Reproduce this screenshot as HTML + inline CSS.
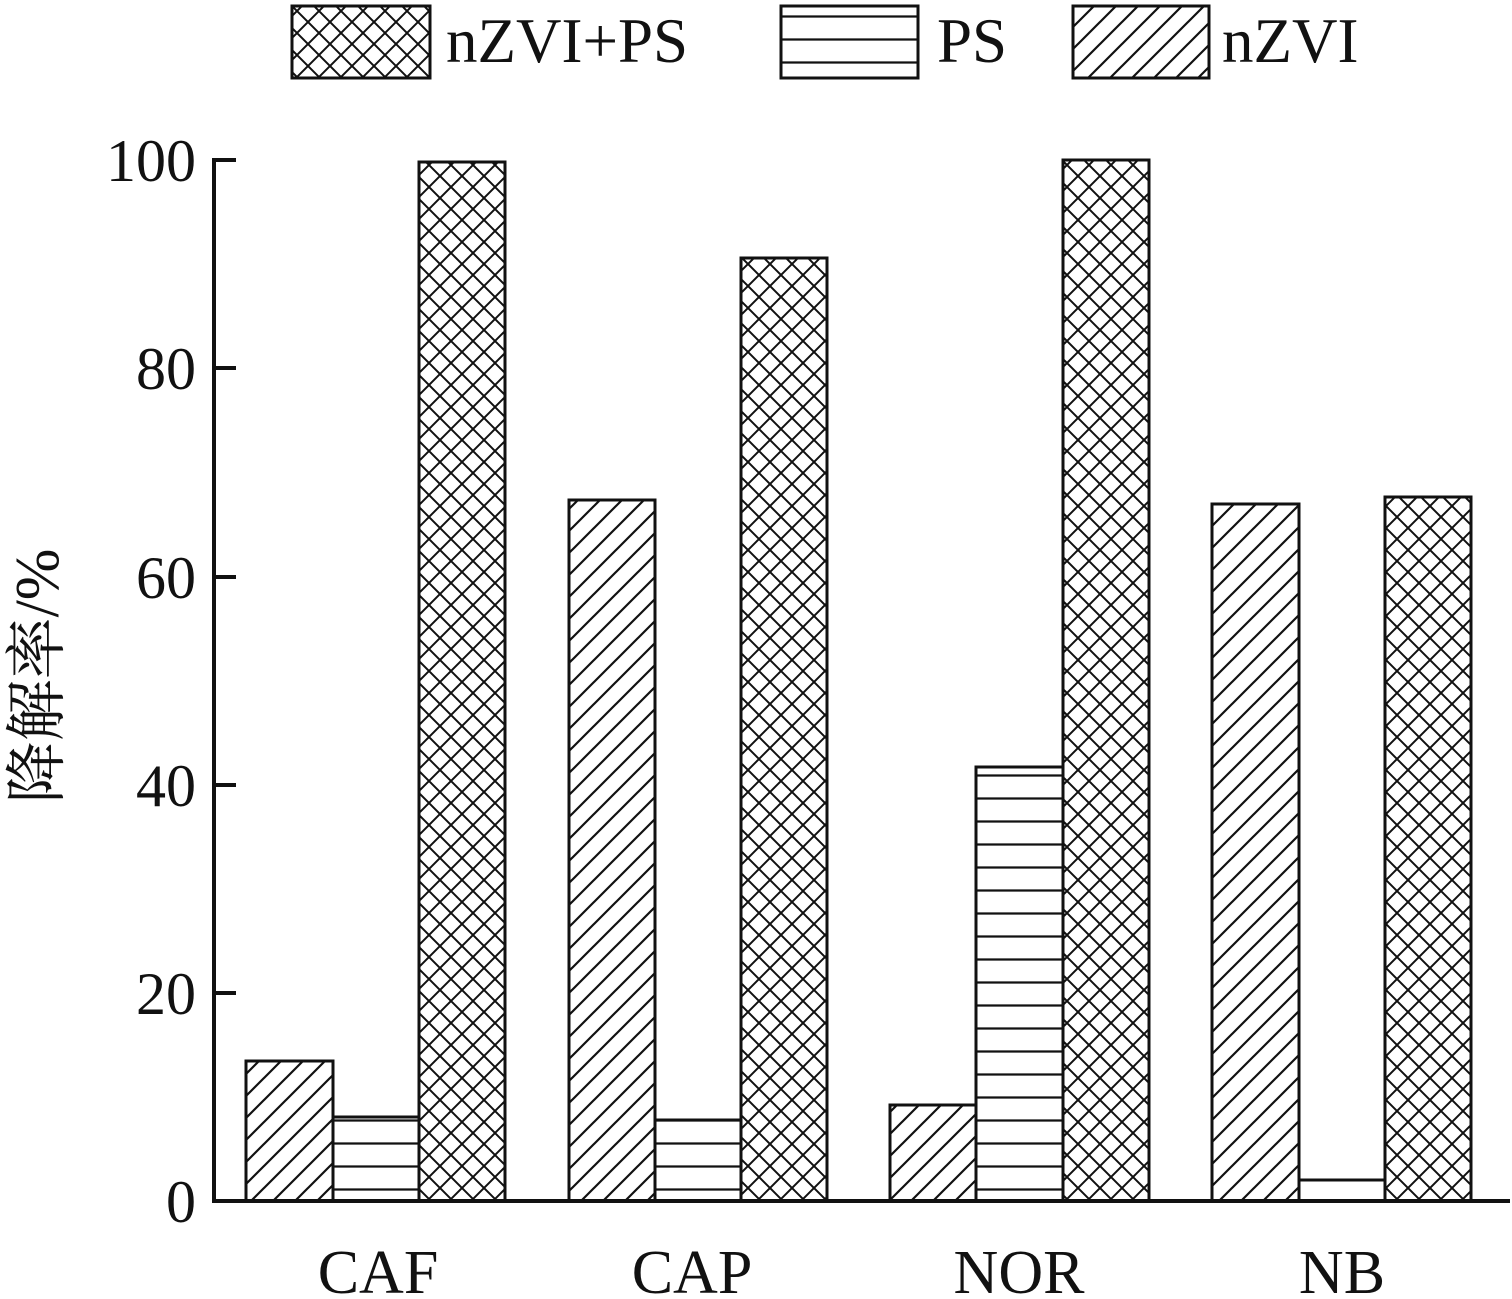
<!DOCTYPE html>
<html><head><meta charset="utf-8"><style>html,body{margin:0;padding:0;background:#fff}svg{display:block}</style></head>
<body>
<svg width="1512" height="1299" viewBox="0 0 1512 1299" xmlns="http://www.w3.org/2000/svg" font-family="Liberation Serif, serif">
<defs>
<pattern id="diag" patternUnits="userSpaceOnUse" width="22" height="22">
<path d="M-5.5,5.5 L5.5,-5.5 M0,22 L22,0 M16.5,27.5 L27.5,16.5" stroke="#111" stroke-width="2.2"/>
</pattern>
<pattern id="horz" patternUnits="userSpaceOnUse" width="22" height="23" y="1201">
<path d="M0,11.5 H22" stroke="#111" stroke-width="2.2"/>
</pattern>
<pattern id="cross" patternUnits="userSpaceOnUse" width="22" height="22">
<path d="M-5.5,5.5 L5.5,-5.5 M0,22 L22,0 M16.5,27.5 L27.5,16.5 M-5.5,16.5 L5.5,27.5 M0,0 L22,22 M16.5,-5.5 L27.5,5.5" stroke="#111" stroke-width="2"/>
</pattern>
</defs>
<g stroke="#111" stroke-width="3">
<rect x="292" y="6" width="138" height="72" fill="url(#cross)"/>
<rect x="781" y="6" width="137" height="72" fill="url(#horz)"/>
<rect x="1073" y="6" width="136" height="72" fill="url(#diag)"/>
</g>
<g font-size="63" fill="#111">
<text x="446" y="62">nZVI+PS</text>
<text x="937" y="62">PS</text>
<text x="1222" y="62">nZVI</text>
</g>
<g stroke="#111" stroke-width="3">
<rect x="246" y="1061" width="87" height="140" fill="url(#diag)"/>
<rect x="333" y="1117" width="86" height="84" fill="url(#horz)"/>
<rect x="419" y="162" width="86" height="1039" fill="url(#cross)"/>
<rect x="569" y="500" width="86" height="701" fill="url(#diag)"/>
<rect x="655" y="1120" width="86" height="81" fill="url(#horz)"/>
<rect x="741" y="258" width="86" height="943" fill="url(#cross)"/>
<rect x="890" y="1105" width="86" height="96" fill="url(#diag)"/>
<rect x="976" y="767" width="87" height="434" fill="url(#horz)"/>
<rect x="1063" y="160" width="86" height="1041" fill="url(#cross)"/>
<rect x="1212" y="504" width="87" height="697" fill="url(#diag)"/>
<rect x="1299" y="1180" width="86" height="21" fill="#fff"/>
<rect x="1385" y="497" width="86" height="704" fill="url(#cross)"/>
</g>
<g stroke="#111" stroke-width="4">
<line x1="214" y1="158" x2="214" y2="1203"/>
<line x1="212" y1="1201" x2="1510" y2="1201"/>
<line x1="214" y1="160" x2="236" y2="160"/>
<line x1="214" y1="368" x2="236" y2="368"/>
<line x1="214" y1="577" x2="236" y2="577"/>
<line x1="214" y1="785" x2="236" y2="785"/>
<line x1="214" y1="993" x2="236" y2="993"/>
</g>
<g font-size="60" fill="#111" text-anchor="end">
<text x="196" y="181">100</text>
<text x="196" y="389">80</text>
<text x="196" y="598">60</text>
<text x="196" y="806">40</text>
<text x="196" y="1014">20</text>
<text x="196" y="1222">0</text>
</g>
<g font-size="62" fill="#111" text-anchor="middle">
<text x="378" y="1293">CAF</text>
<text x="692" y="1293">CAP</text>
<text x="1019" y="1293">NOR</text>
<text x="1342" y="1293">NB</text>
</g>
<text transform="translate(58,676) rotate(-90)" font-size="62" fill="#111" text-anchor="middle" font-family="Liberation Serif, Noto Serif CJK SC, serif">降解率/%</text>
</svg>
</body></html>
